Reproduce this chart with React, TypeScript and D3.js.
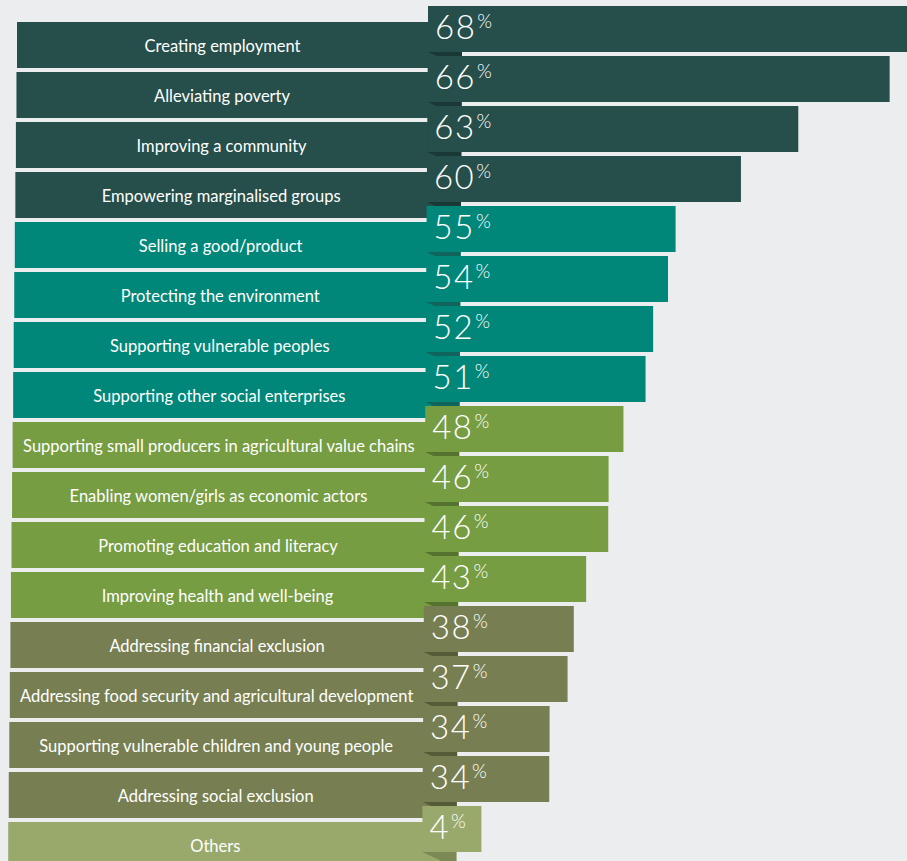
import React from 'react';
import * as d3 from 'd3';

const categories = [
  'Creating employment',
  'Alleviating poverty',
  'Improving a community',
  'Empowering marginalised groups',
  'Selling a good/product',
  'Protecting the environment',
  'Supporting vulnerable peoples',
  'Supporting other social enterprises',
  'Supporting small producers in agricultural value chains',
  'Enabling women/girls as economic actors',
  'Promoting education and literacy',
  'Improving health and well-being',
  'Addressing financial exclusion',
  'Addressing food security and agricultural development',
  'Supporting vulnerable children and young people',
  'Addressing social exclusion',
  'Others',
];
const values = [68, 66, 63, 60, 55, 54, 52, 51, 48, 46, 46, 43, 38, 37, 34, 34, 4];
const groups = ['g1', 'g1', 'g1', 'g1', 'g2', 'g2', 'g2', 'g2', 'g3', 'g3', 'g3', 'g3', 'g4', 'g4', 'g4', 'g4', 'g5'];
const groupKeys = ['g1', 'g2', 'g3', 'g4', 'g5'];
const fillColors = ['#264f4b', '#00877a', '#769d42', '#777f52', '#98a96b'];
const foldColors = ['#1a3835', '#0f645b', '#55722f', '#545b37', '#7b8a55'];

const W = 907;
const H = 861;

export default function App() {
  const y = d3.scaleBand<string>().domain(categories).range([6, 852]).paddingInner(0.08).paddingOuter(0);
  // designer's visual (non-uniform) length scale
  const len = d3
    .scaleLinear()
    .domain([0, 34, 38, 43, 55, 60, 63, 66, 68])
    .range([50, 126.5, 150, 162, 249, 314, 371, 462, 500]);
  const fill = d3.scaleOrdinal<string, string>().domain(groupKeys).range(fillColors);
  const fold = d3.scaleOrdinal<string, string>().domain(groupKeys).range(foldColors);
  const bw = y.bandwidth();
  const drop = 16;
  const foldW = 34;

  return (
    <svg width={W} height={H} style={{ position: 'absolute', left: 0, top: 0, display: 'block' }}>
      <rect x={0} y={0} width={W} height={H} fill="#ecedef" />
      {categories.map((c, i) => {
        const top = y(c)!;
        const tabL = 428 - 0.35 * i;
        const labL = 17 - 0.55 * i;
        const tabB = top + bw;
        const g = groups[i];
        const v = values[i];
        return (
          <g key={c}>
            <rect x={labL} y={top + drop} width={tabL + foldW - labL} height={bw} fill={fill(g)} />
            <path
              d={`M${tabL},${tabB}L${tabL + foldW},${tabB}L${tabL + foldW},${tabB + drop}Z`}
              fill={fold(g)}
            />
            <rect x={tabL} y={top} width={len(v)} height={bw} fill={fill(g)} />
            <text
              x={(labL + tabL) / 2}
              y={top + drop + 29.5}
              textAnchor="middle"
              fill="#ffffff"
              fontFamily="Lato, 'Open Sans', sans-serif"
              fontSize={16.5}
            >
              {c}
            </text>
            <text
              x={tabL + 7}
              y={top + 33}
              fill="#ffffff"
              fontFamily="Lato, 'Open Sans', sans-serif"
              fontWeight={300}
              fontSize={33}
              letterSpacing={1.5}
            >
              {v}
              <tspan fontSize={19} dy={-11} dx={1} letterSpacing={0}>%</tspan>
            </text>
          </g>
        );
      })}
    </svg>
  );
}
